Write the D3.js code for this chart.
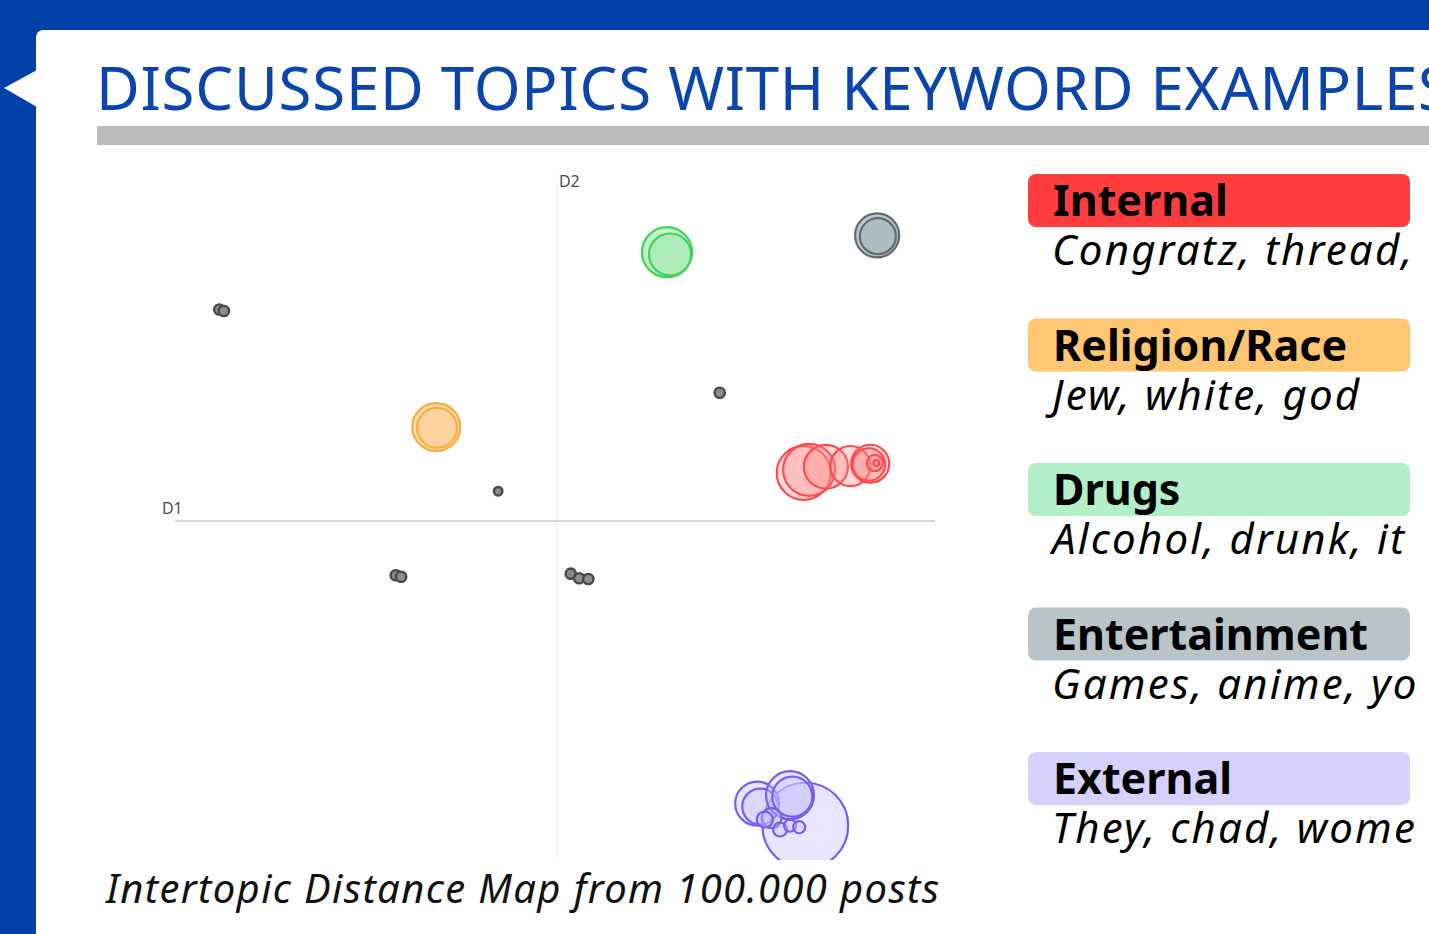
<!DOCTYPE html>
<html>
<head>
<meta charset="utf-8">
<script src="https://cdn.jsdelivr.net/npm/d3@7"></script>
<style>
  html, body { margin: 0; padding: 0; background: #0041a8; overflow: hidden; }
  svg { display: block; }
</style>
</head>
<body>
<div id="chart"></div>
<script>
// topic bubbles (2D projection coordinates, relative size, topic group)
var topicX = [-0.442, -0.436, -0.077, -0.211, -0.204, 0.018, 0.029, 0.041, 0.213,
  -0.158, -0.157,
  0.144, 0.148,
  0.419, 0.420,
  0.323, 0.330, 0.352, 0.384, 0.410, 0.408, 0.416, 0.418,
  0.325, 0.262, 0.266, 0.305, 0.308, 0.281, 0.292, 0.305, 0.317, 0.272];
var topicY = [0.277, 0.275, 0.039, -0.071, -0.073, -0.069, -0.075, -0.076, 0.168,
  0.123, 0.122,
  0.352, 0.349,
  0.374, 0.373,
  0.063, 0.067, 0.071, 0.072, 0.075, 0.074, 0.076, 0.076,
  -0.399, -0.370, -0.374, -0.359, -0.361, -0.389, -0.404, -0.399, -0.401, -0.391];
var topicSize = [1.3, 1.3, 0.9, 1.3, 1.3, 1.3, 1.3, 1.3, 1.3,
  28.4, 19.8,
  30.9, 21.8,
  23.9, 16,
  36, 33.4, 23.9, 19.8, 17.8, 13, 3.2, 0.4,
  91, 23.9, 16, 28.4, 19.8, 4.9, 2.4, 1.8, 1.8, 3.2];
var topicGroup = ["other", "other", "other", "other", "other", "other", "other", "other", "other",
  "religion", "religion",
  "drugs", "drugs",
  "entertainment", "entertainment",
  "internal", "internal", "internal", "internal", "internal", "internal", "internal", "internal",
  "external", "external", "external", "external", "external", "external", "external", "external", "external", "external"];

// legend
var legendNames = ["Internal", "Religion/Race", "Drugs", "Entertainment", "External"];
var legendKeywords = ["Congratz, thread,", "Jew, white, god", "Alcohol, drunk, it", "Games, anime, yo", "They, chad, wome"];
var legendColors = ["#ff3d3f", "#ffc672", "#b2eec8", "#b8c4c8", "#d6d1fc"];

var titleText = "DISCUSSED TOPICS WITH KEYWORD EXAMPLES";
var captionText = "Intertopic Distance Map from 100.000 posts";

var W = 1429, H = 934;

// bubble style per group
var groupFill = { other: "#8c8c8c", religion: "#ffcf96", drugs: "#9fe9ab", entertainment: "#a9b9be", internal: "#ff8a8a", external: "#c9c2ff" };
var groupFillOp = { other: 1, religion: 0.7, drugs: 0.6, entertainment: 0.8, internal: 0.32, external: 0.4 };
var groupStroke = { other: "#474747", religion: "#ffab3a", drugs: "#3fd35a", entertainment: "#5d6b70", internal: "#ff4a4e", external: "#7a5cf0" };

var svg = d3.select("#chart").append("svg")
  .attr("width", W)
  .attr("height", H)
  .attr("viewBox", "0 0 " + W + " " + H);

// white slide panel + pointer
svg.append("rect")
  .attr("x", 36).attr("y", 30)
  .attr("width", W).attr("height", H)
  .attr("rx", 7)
  .attr("fill", "white");
svg.append("path")
  .attr("d", "M4,88 L37,70 L37,107 Z")
  .attr("fill", "white");

// title
svg.append("text")
  .attr("x", 96).attr("y", 110)
  .attr("fill", "#0a44ad")
  .attr("textLength", 1355)
  .attr("lengthAdjust", "spacing")
  .style("font-family", "'Noto Sans', 'Open Sans', sans-serif")
  .style("font-size", "60px")
  .text(titleText);

svg.append("rect")
  .attr("x", 97).attr("y", 126)
  .attr("width", W).attr("height", 19)
  .attr("fill", "#bbbbbb");

// scatter
var x = d3.scaleLinear().domain([-0.5, 0.5]).range([175, 939]);
var y = d3.scaleLinear().domain([-0.44, 0.44]).range([857, 185]);
var r = d3.scaleSqrt().domain([0, 100]).range([0, 45]);

svg.append("clipPath").attr("id", "plotclip")
  .append("rect").attr("x", 150).attr("y", 160).attr("width", 810).attr("height", 700);

var plot = svg.append("g").attr("clip-path", "url(#plotclip)");

// axes through the origin
plot.append("line")
  .attr("x1", x(0)).attr("x2", x(0))
  .attr("y1", y(0.44)).attr("y2", y(-0.44))
  .attr("stroke", "#f3f3f3").attr("stroke-width", 1.5);
plot.append("line")
  .attr("x1", x(-0.5)).attr("x2", x(0.495))
  .attr("y1", y(0)).attr("y2", y(0))
  .attr("stroke", "#dadada").attr("stroke-width", 2);

svg.append("text")
  .attr("x", x(0) + 2).attr("y", 187)
  .attr("fill", "#444")
  .style("font-family", "'Open Sans', sans-serif")
  .style("font-size", "16px")
  .text("D2");
svg.append("text")
  .attr("x", 162).attr("y", 514)
  .attr("fill", "#444")
  .style("font-family", "'Open Sans', sans-serif")
  .style("font-size", "16px")
  .text("D1");

var topics = topicX.map(function (d, i) {
  return { x: d, y: topicY[i], size: topicSize[i], group: topicGroup[i] };
});

plot.selectAll("circle.topic")
  .data(topics)
  .enter()
  .append("circle")
  .attr("class", "topic")
  .attr("cx", function (d) { return x(d.x); })
  .attr("cy", function (d) { return y(d.y); })
  .attr("r", function (d) { return r(d.size); })
  .attr("fill", function (d) { return groupFill[d.group]; })
  .attr("fill-opacity", function (d) { return groupFillOp[d.group]; })
  .attr("stroke", function (d) { return groupStroke[d.group]; })
  .attr("stroke-width", function (d) { return d.group == "other" ? 2.4 : 2.2; });

// caption
svg.append("text")
  .attr("x", 106).attr("y", 903)
  .attr("fill", "#111")
  .attr("textLength", 833)
  .attr("lengthAdjust", "spacing")
  .style("font-family", "'Noto Sans', sans-serif")
  .style("font-style", "italic")
  .style("font-size", "40px")
  .text(captionText);

// legend
var legend = svg.selectAll("g.legend")
  .data(legendNames)
  .enter()
  .append("g")
  .attr("class", "legend")
  .attr("transform", function (d, i) { return "translate(1028," + (174 + i * 144.5) + ")"; });

legend.append("rect")
  .attr("width", 382).attr("height", 53)
  .attr("rx", 8)
  .attr("fill", function (d, i) { return legendColors[i]; });

legend.append("text")
  .attr("x", 25).attr("y", 42)
  .attr("fill", "#000")
  .style("font-family", "'Noto Sans', sans-serif")
  .style("font-weight", "bold")
  .style("font-size", "43px")
  .text(function (d) { return d; });

legend.append("text")
  .attr("x", 24).attr("y", 91)
  .attr("fill", "#000")
  .style("font-family", "'Noto Sans', sans-serif")
  .style("font-style", "italic")
  .style("font-size", "42px")
  .style("letter-spacing", "2.2px")
  .text(function (d, i) { return legendKeywords[i]; });
</script>
</body>
</html>
